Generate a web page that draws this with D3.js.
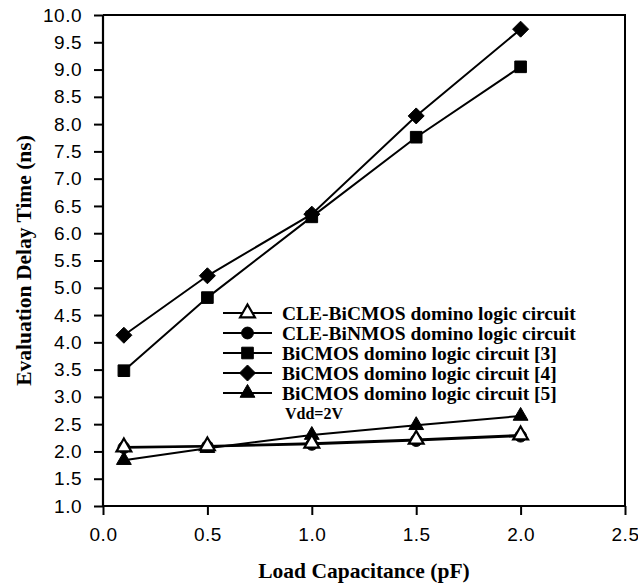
<!DOCTYPE html>
<html>
<head>
<meta charset="utf-8">
<script src="https://cdn.jsdelivr.net/npm/d3@7"></script>
<style>
  html, body { margin: 0; padding: 0; background: #fff; }
  svg { display: block; }
</style>
</head>
<body>
<svg id="chart" width="638" height="584"></svg>
<script>
// Load capacitance (pF) at which each circuit was evaluated
const loads = [0.1, 0.5, 1.0, 1.5, 2.0];

// Evaluation delay time (ns) per circuit
const cleBiCMOS = [2.08, 2.10, 2.15, 2.22, 2.30];
const cleBiNMOS = [2.07, 2.09, 2.13, 2.20, 2.28];
const bicmos3   = [3.48, 4.82, 6.30, 7.76, 9.05];
const bicmos4   = [4.13, 5.22, 6.35, 8.15, 9.74];
const bicmos5   = [1.84, 2.06, 2.30, 2.48, 2.65];

const seriesNames = [
  "CLE-BiCMOS domino logic circuit",
  "CLE-BiNMOS domino logic circuit",
  "BiCMOS domino logic circuit [3]",
  "BiCMOS domino logic circuit [4]",
  "BiCMOS domino logic circuit [5]"
];
const noteText = "Vdd=2V";

const xTicks = [0.0, 0.5, 1.0, 1.5, 2.0, 2.5];
const yTicks = [1.0, 1.5, 2.0, 2.5, 3.0, 3.5, 4.0, 4.5, 5.0, 5.5, 6.0, 6.5, 7.0, 7.5, 8.0, 8.5, 9.0, 9.5, 10.0];

const xTitle = "Load Capacitance (pF)";
const yTitle = "Evaluation Delay Time (ns)";

const svg = d3.select("#chart");
const plotL = 103, plotR = 625, plotT = 15, plotB = 506;

const x = d3.scaleLinear().domain([0, 2.5]).range([plotL, plotR]);
const y = d3.scaleLinear().domain([1, 10]).range([plotB, plotT]);

const sansFont = "'Liberation Sans', Arial, Helvetica, sans-serif";
const serifFont = "'Liberation Serif', 'Times New Roman', serif";

// rotated-square diamond
const symbolDiamondSquare = {
  draw(ctx, size) {
    const h = Math.sqrt(size / 2);
    ctx.moveTo(0, -h); ctx.lineTo(h, 0); ctx.lineTo(0, h); ctx.lineTo(-h, 0); ctx.closePath();
  }
};

// marker shapes
const markerDefs = [
  { type: d3.symbolTriangle, size: 95,  fill: "#fff" },   // CLE-BiCMOS
  { type: d3.symbolCircle,   size: 110, fill: "#000" },   // CLE-BiNMOS
  { type: d3.symbolSquare,   size: 135, fill: "#000" },   // [3]
  { type: symbolDiamondSquare, size: 128, fill: "#000" }, // [4]
  { type: d3.symbolTriangle, size: 95,  fill: "#000" }    // [5]
];

const series = [cleBiCMOS, cleBiNMOS, bicmos3, bicmos4, bicmos5];

// Axes
const xAxis = d3.axisBottom(x).tickValues(xTicks).tickFormat(d3.format(".1f")).tickSize(9).tickPadding(13);
const yAxis = d3.axisLeft(y).tickValues(yTicks).tickFormat(d3.format(".1f")).tickSize(9).tickPadding(12);

const gx = svg.append("g").attr("transform", `translate(0,${plotB})`).call(xAxis);
const gy = svg.append("g").attr("transform", `translate(${plotL},0)`).call(yAxis);

[gx, gy].forEach(g => {
  g.select(".domain").attr("stroke", "#000").attr("stroke-width", 2.2);
  g.selectAll(".tick line").attr("stroke", "#000").attr("stroke-width", 2);
  g.selectAll(".tick text")
    .attr("fill", "#000")
    .style("font-family", sansFont)
    .style("font-size", "19px")
    .style("letter-spacing", "0.5px");
});
gy.select(".domain").attr("d", `M0,${plotB}V${plotT}`);
gx.select(".domain").attr("d", `M${plotL},0H${plotR}`);

// top and right frame
svg.append("path")
  .attr("d", `M${plotL},${plotT}H${plotR}V${plotB}`)
  .attr("fill", "none")
  .attr("stroke", "#000")
  .attr("stroke-width", 2);

// Axis titles
svg.append("text")
  .attr("x", (plotL + plotR) / 2)
  .attr("y", 578)
  .attr("text-anchor", "middle")
  .style("font-family", serifFont)
  .style("font-weight", "bold")
  .style("font-size", "21.5px")
  .text(xTitle);

svg.append("text")
  .attr("transform", `translate(31,${(plotT + plotB) / 2}) rotate(-90)`)
  .attr("text-anchor", "middle")
  .style("font-family", serifFont)
  .style("font-weight", "bold")
  .style("font-size", "21.5px")
  .text(yTitle);

// Lines and markers
const line = d3.line().x((d, i) => x(loads[i])).y(d => y(d));
const drawOrder = [3, 2, 4, 1, 0];

drawOrder.forEach(si => {
  svg.append("path")
    .datum(series[si])
    .attr("d", line)
    .attr("fill", "none")
    .attr("stroke", "#000")
    .attr("stroke-width", 2);
});

drawOrder.forEach(si => {
  const m = markerDefs[si];
  const sym = d3.symbol().type(m.type).size(m.size);
  svg.append("g").selectAll("path")
    .data(series[si])
    .join("path")
    .attr("transform", (d, i) => `translate(${x(loads[i])},${y(d)})`)
    .attr("d", sym)
    .attr("fill", m.fill)
    .attr("stroke", "#000")
    .attr("stroke-width", m.fill === "#fff" ? 2.2 : 1);
});

// Legend
const legX0 = 223, legX1 = 272, legTextX = 282, legY0 = 313, legStep = 20;
const legend = svg.append("g");
seriesNames.forEach((name, i) => {
  const yy = legY0 + i * legStep;
  legend.append("line")
    .attr("x1", legX0).attr("x2", legX1)
    .attr("y1", yy).attr("y2", yy)
    .attr("stroke", "#000").attr("stroke-width", 2);
  const m = markerDefs[i];
  legend.append("path")
    .attr("transform", `translate(${(legX0 + legX1) / 2},${yy})`)
    .attr("d", d3.symbol().type(m.type).size(m.size)())
    .attr("fill", m.fill)
    .attr("stroke", "#000")
    .attr("stroke-width", m.fill === "#fff" ? 2.2 : 1);
  legend.append("text")
    .attr("x", legTextX)
    .attr("y", yy + 7)
    .style("font-family", serifFont)
    .style("font-weight", "bold")
    .style("font-size", "19.5px")
    .text(name);
});
legend.append("text")
  .attr("x", 285)
  .attr("y", legY0 + 5 * legStep + 6)
  .style("font-family", serifFont)
  .style("font-weight", "bold")
  .style("font-size", "16px")
  .text(noteText);
</script>
</body>
</html>
